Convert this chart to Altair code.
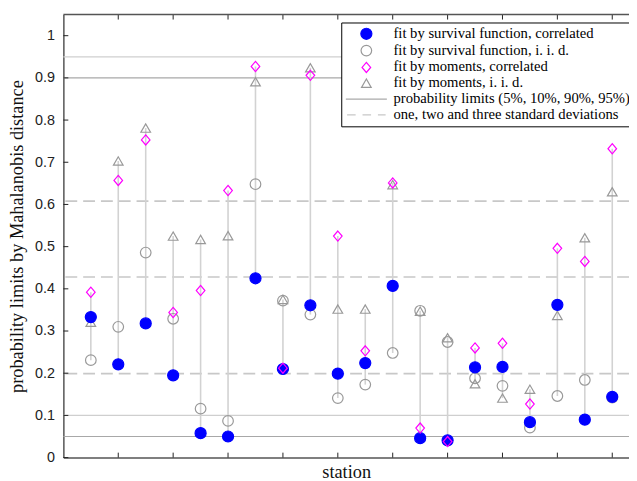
import altair as alt
import pandas as pd

# ---- data ----
stations = list(range(1, 21))
sf_corr = [0.333, 0.221, 0.318, 0.195, 0.058, 0.050, 0.425, 0.210, 0.361, 0.199,
           0.224, 0.407, 0.046, 0.041, 0.214, 0.215, 0.084, 0.362, 0.090, 0.144]
sf_iid = [0.231, 0.310, 0.486, 0.329, 0.116, 0.087, 0.648, 0.372, 0.339, 0.141,
          0.173, 0.248, 0.348, 0.274, 0.188, 0.170, 0.071, 0.146, 0.184, 0.142]
mom_corr = [0.392, 0.657, 0.753, 0.344, 0.396, 0.633, 0.927, 0.212, 0.906, 0.525,
            0.253, 0.651, 0.070, 0.038, 0.260, 0.271, 0.127, 0.496, 0.465, 0.732]
mom_iid = [0.321, 0.703, 0.781, 0.525, 0.517, 0.526, 0.891, 0.375, 0.924, 0.352,
           0.352, 0.647, 0.347, 0.284, 0.175, 0.141, 0.162, 0.337, 0.521, 0.630]

series_names = [
    "fit by survival function, correlated",
    "fit by survival function, i. i. d.",
    "fit by moments, correlated",
    "fit by moments, i. i. d.",
    "probability limits (5%, 10%, 90%, 95%)",
    "one, two and three standard deviations",
]

limits_dark = [0.05, 0.90]
limits_light = [0.10, 0.95]
std_lines = [0.199, 0.428, 0.608]
y_ticks = [0.0, 0.1, 0.2, 0.3, 0.4, 0.5, 0.6, 0.7, 0.8, 0.9, 1.0]
x_ticks = [2, 4, 6, 8, 10, 12, 14, 16, 18, 20]

# ---- styling ----
W, H = 572, 448
shapes = ["circle", "circle", "M0,-1L0.85,0L0,1L-0.85,0Z", "triangle-up",
          "M-4.5,0H4.5", "M-4.5,0H-2.5M-0.9,0H1.1M2.7,0H4.5"]
fills = ["#0000ff", "transparent", "transparent", "transparent", "transparent", "transparent"]
strokes = ["#0000ff", "#999999", "#ff00ff", "#999999", "#aaaaaa", "#c8c8c8"]
sizes = [125, 75, 130, 120, 100, 100]

# draw order: iid circles, iid triangles, blue dots, magenta diamonds
order = [(1, sf_iid), (3, mom_iid), (0, sf_corr), (2, mom_corr)]
rows = []
for idx, vals in order:
    for s, v in zip(stations, vals):
        rows.append({"station": s, "value": v, "series": series_names[idx]})
df = pd.DataFrame(rows)

xscale = alt.Scale(domain=[0, 20.61], nice=False, zero=False)
yscale = alt.Scale(domain=[0, 1.05], nice=False, zero=False)

xaxis = alt.Axis(title="station", labels=False, ticks=False, tickSize=0, grid=False,
                 domainColor="#555555", domainWidth=1.5,
                 titleFont="Liberation Serif", titleFontSize=18.5, titleFontWeight="normal",
                 titleColor="#111111", titlePadding=5)
yaxis = alt.Axis(title="probability limits by Mahalanobis distance", values=y_ticks,
                 format=".1~f", ticks=False, tickSize=0, labelPadding=9, grid=False,
                 labelFont="Liberation Sans", labelFontSize=14.5, labelColor="#222222",
                 domainColor="#555555", domainWidth=1.5,
                 titleFont="Liberation Serif", titleFontSize=18.5, titleFontWeight="normal",
                 titleColor="#111111", titlePadding=8)

leg = alt.Legend(title=None, orient="none", legendX=281, legendY=8,
                 labelFont="Liberation Serif", labelFontSize=14.8, labelColor="black",
                 labelLimit=400, labelOffset=20, symbolOffset=14, padding=4, rowPadding=0,
                 fillColor="white", strokeColor="black",
                 symbolStrokeWidth=1.2)

def X(field):
    return alt.X(field, scale=xscale, axis=xaxis)

def Y(field):
    return alt.Y(field, scale=yscale, axis=yaxis)

lim_dark = alt.Chart(pd.DataFrame({"value": limits_dark})).mark_rule(
    color="#a8a8a8", strokeWidth=1.2).encode(y=Y("value:Q"))
lim_light = alt.Chart(pd.DataFrame({"value": limits_light})).mark_rule(
    color="#cfcfcf", strokeWidth=1.2).encode(y=Y("value:Q"))
std = alt.Chart(pd.DataFrame({"value": std_lines})).mark_rule(
    color="#c8c8c8", strokeWidth=1.7, strokeDash=[12, 6]).encode(y=Y("value:Q"))

ranges = alt.Chart(df).mark_rule(color="#d2d2d2", strokeWidth=1.6).encode(
    x=X("station:Q"), y=Y("min(value):Q"), y2="max(value):Q")

points = alt.Chart(df).mark_point(opacity=1, fillOpacity=1, strokeOpacity=1, strokeWidth=1.2).encode(
    x=X("station:Q"),
    y=Y("value:Q"),
    shape=alt.Shape("series:N", scale=alt.Scale(domain=series_names, range=shapes), legend=leg),
    fill=alt.Fill("series:N", scale=alt.Scale(domain=series_names, range=fills), legend=leg),
    stroke=alt.Stroke("series:N", scale=alt.Scale(domain=series_names, range=strokes), legend=leg),
    size=alt.Size("series:N", scale=alt.Scale(domain=series_names, range=sizes), legend=leg),
)

yt = alt.Chart(pd.DataFrame({"value": y_ticks})).mark_rule(color="#222222", strokeWidth=1).encode(
    y=Y("value:Q"), x=alt.value(0), x2=alt.value(5))
xt_bottom = alt.Chart(pd.DataFrame({"station": x_ticks})).mark_rule(color="#222222", strokeWidth=1).encode(
    x=X("station:Q"), y=alt.value(H), y2=alt.value(H - 5))
xt_top = alt.Chart(pd.DataFrame({"station": x_ticks})).mark_rule(color="#222222", strokeWidth=1).encode(
    x=X("station:Q"), y=alt.value(0), y2=alt.value(5))
top_line = alt.Chart(pd.DataFrame({"station": [0]})).mark_rule(color="#555555", strokeWidth=1.5).encode(
    y=alt.value(0))

chart = alt.layer(lim_light, lim_dark, std, ranges, points, yt, xt_bottom, xt_top, top_line).properties(
    width=W, height=H,
    autosize=alt.AutoSizeParams(type="none"),
    padding={"left": 56, "top": 4, "right": 0, "bottom": 21},
).configure_view(stroke=None)

chart.save("out.html", embed_options={"renderer": "svg", "actions": False})
